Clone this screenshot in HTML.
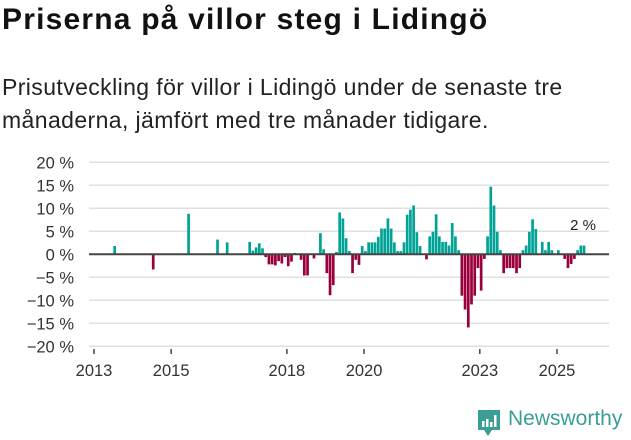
<!DOCTYPE html>
<html><head><meta charset="utf-8"><style>
body{margin:0;width:631px;height:439px;background:#fff;font-family:"Liberation Sans","DejaVu Sans",sans-serif;overflow:hidden;position:relative}
h1{position:absolute;left:2px;top:3px;margin:0;font-size:30px;font-weight:bold;color:#111;letter-spacing:1.2px;white-space:nowrap}
p{position:absolute;left:2px;top:71px;margin:0;font-size:23px;line-height:33px;color:#222;width:592px;letter-spacing:0.4px}
svg{position:absolute;left:0;top:0}
</style></head><body>
<h1>Priserna på villor steg i Lidingö</h1>
<p>Prisutveckling för villor i Lidingö under de senaste tre månaderna, jämfört med tre månader tidigare.</p>
<svg id="chart" width="631" height="439"></svg>
<script>
const monthIdx=[6,18,29,38,41,48,49,50,51,52,53,54,55,56,57,58,59,60,61,62,64,65,66,68,70,71,72,73,74,75,76,77,78,79,80,81,82,83,84,85,86,87,88,89,90,91,92,93,94,95,96,97,98,99,100,101,103,104,105,106,107,108,109,110,111,112,113,114,115,116,117,118,119,120,121,122,123,124,125,126,127,128,129,130,131,132,133,134,135,136,137,139,140,141,142,144,146,147,148,149,150,151,152];
const values=[1.8,-3.3,8.8,3.2,2.6,2.7,0.8,1.5,2.4,1.3,-0.6,-2.2,-2.2,-2.4,-1.5,-2,-0.6,-2.6,-1.6,0.3,-1.2,-4.6,-4.6,-0.9,4.6,1.1,-4.1,-8.9,-6.7,0.5,9.1,7.8,3.5,0.7,-4.1,-1.2,-2.3,1.8,0.7,2.6,2.6,2.6,3.8,5.6,5.6,7.8,5.6,2.6,0.7,0.7,2.6,8.6,9.7,10.6,4.8,1.8,-1.1,3.9,4.9,8.7,3.9,2.7,2.7,1.9,6.8,3.9,0.9,-9,-12,-15.9,-10.9,-9,-3,-7.9,-1,3.9,14.7,10.6,4.9,0.9,-4.1,-3,-3,-3,-4.1,-3,0.9,1.9,4.9,7.6,5.5,2.7,0.9,2.7,0.9,0.9,-1,-3,-2.1,-1,0.9,1.9,1.9];
const yTicks=[20,15,10,5,0,-5,-10,-15,-20];
const xTickYears=[2013,2015,2018,2020,2023,2025];
const svg=document.getElementById('chart');
const NS='http://www.w3.org/2000/svg';
const X=m=>94+m*3.215;
const Y=v=>254.3-v*4.6;
function mk(t,a){const e=document.createElementNS(NS,t);for(const k in a)e.setAttribute(k,a[k]);svg.appendChild(e);return e;}
yTicks.forEach(v=>{
 if(v!==0){const g=mk('line',{x1:89,x2:609,y1:Y(v),y2:Y(v),stroke:'#e0e0e0','stroke-width':1.5});
 
 }
 const t=mk('text',{x:74,y:Y(v)+6,'text-anchor':'end','font-size':16.5,fill:'#333','font-family':'Liberation Sans, sans-serif'});
 t.textContent=(v<0?'\u2212'+(-v):v)+' %';
 
 
});
monthIdx.forEach((m,i)=>{
 const v=values[i];
 const r=mk('rect',{x:X(m),width:2.7,y:v>=0?Y(v):Y(0),height:Math.abs(Y(v)-Y(0)),fill:v>=0?'#00a396':'#99003c'});
 
 
});
const z=mk('line',{x1:89,x2:609,y1:Y(0),y2:Y(0),stroke:'#444','stroke-width':2});


xTickYears.forEach(yr=>{
 const x=X((yr-2013)*12);
 const l=mk('line',{x1:x,x2:x,y1:349,y2:354,stroke:'#444','stroke-width':1.5});
 
 
 const t=mk('text',{x:x,y:376,'text-anchor':'middle','font-size':16.5,fill:'#333','font-family':'Liberation Sans, sans-serif'});
 t.textContent=yr;
 
 
});
const lab=mk('text',{x:583,y:230,'text-anchor':'middle','font-size':15,fill:'#222','font-family':'Liberation Sans, sans-serif'});
lab.textContent=values[values.length-1].toFixed(0)+' %';


</script>
<svg width="30" height="32" style="left:476px;top:408px">
<path d="M2 2h22v20h-8l-4 6-4-6h-6z" fill="#3a9e96"/>
<rect x="6" y="13" width="2.5" height="6" fill="#fff"/><rect x="10" y="11" width="2.5" height="8" fill="#fff"/><rect x="14" y="14" width="2.5" height="5" fill="#fff"/><rect x="18" y="7" width="2.5" height="12" fill="#fff"/>
</svg>
<div style="position:absolute;left:508px;top:407px;font-size:21px;color:#3a9e96">Newsworthy</div>
</body></html>
